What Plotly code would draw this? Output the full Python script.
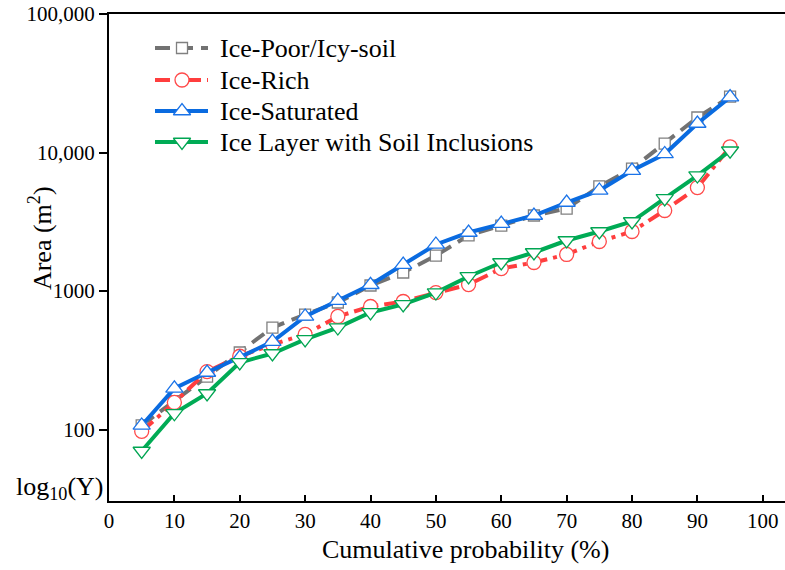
import plotly.graph_objects as go

# Cumulative probability (%) at which each area quantile is reported
prob = [5, 10, 15, 20, 25, 30, 35, 40, 45, 50, 55, 60, 65, 70, 75, 80, 85, 90, 95]

# Area (m^2) per ground-ice class
ice_poor = [107, 160, 241, 360, 545, 676, 826, 1096, 1360, 1800, 2520, 2970, 3510, 3940,
            5690, 7650, 11600, 17900, 25300]
ice_rich = [97, 157, 262, 338, 411, 486, 655, 773, 840, 975, 1113, 1453, 1606, 1836,
            2277, 2690, 3815, 5580, 11000]
ice_saturated = [107, 198, 258, 331, 431, 655, 853, 1110, 1553, 2168, 2645, 3068, 3510, 4355,
                 5320, 7410, 9760, 16200, 25100]
ice_layer = [70, 131, 182, 305, 354, 447, 545, 700, 800, 975, 1274, 1606, 1897, 2316,
             2690, 3175, 4660, 6820, 10300]

y_tick_vals = [100, 1000, 10000, 100000]
y_tick_text = ["100", "1000", "10,000", "100,000"]

FONT = "Liberation Serif"

# plot area in pixels (used to place the hand-built legend)
L, T, W, H = 109, 14, 676, 487

series = [
    ("Ice-Poor/Icy-soil", ice_poor, "#727272", "#808080", "15px,8px", "square", 11),
    ("Ice-Rich", ice_rich, "#ff3e3e", "#ff4a4a", "15px,6px,4px,6px", "circle", 14),
    ("Ice-Saturated", ice_saturated, "#0a6be0", "#1a73e8", "solid", "triangle-up", 15),
    ("Ice Layer with Soil Inclusions", ice_layer, "#00ab55", "#00a552", "solid", "triangle-down", 15),
]

legend_rows_px = [48, 80, 111, 142]
legend_line_px = (155, 208)
legend_marker_px = 182
legend_text_px = 218

fig = go.Figure()
annotations = []
for (name, vals, lc, mc, dash, sym, size), row in zip(series, legend_rows_px):
    fig.add_trace(go.Scatter(
        x=prob, y=vals, name=name, mode="lines+markers", showlegend=False,
        line=dict(color=lc, width=4, dash=dash),
        marker=dict(symbol=sym, size=size, color="white",
                    line=dict(color=mc, width=1.3)),
    ))
    # legend sample: line with a marker in the middle, on a pixel-scaled overlay axis
    yy = H - (row - T)
    fig.add_trace(go.Scatter(
        x=[legend_line_px[0] - L, legend_line_px[1] - L], y=[yy, yy],
        mode="lines", showlegend=False, hoverinfo="skip",
        line=dict(color=lc, width=4, dash=dash), xaxis="x2", yaxis="y2",
    ))
    fig.add_trace(go.Scatter(
        x=[legend_marker_px - L], y=[yy], mode="markers", showlegend=False,
        hoverinfo="skip", xaxis="x2", yaxis="y2",
        marker=dict(symbol=sym, size=size, color="white",
                    line=dict(color=mc, width=1.3)),
    ))
    annotations.append(dict(
        text=name, xref="paper", yref="paper",
        x=(legend_text_px - L) / W, y=(H - (row - T)) / H,
        xanchor="left", yanchor="middle", showarrow=False,
        font=dict(family=FONT, size=26, color="black"),
    ))

annotations += [
    dict(text="Cumulative probability (%)", xref="paper", yref="paper",
         x=0.527, y=-0.1006, xanchor="center", yanchor="middle",
         showarrow=False, font=dict(family=FONT, size=26, color="black")),
    dict(text="Area (m<sup>2</sup>)", xref="paper", yref="paper",
         x=-0.102, y=0.54, xanchor="center", yanchor="middle", textangle=-90,
         showarrow=False, font=dict(family=FONT, size=26, color="black")),
    dict(text="log<sub>10</sub>(Y)", xref="paper", yref="paper",
         x=-0.0725, y=0.027, xanchor="center", yanchor="middle",
         showarrow=False, font=dict(family=FONT, size=26, color="black")),
]

fig.update_layout(
    width=785, height=570,
    margin=dict(l=L, r=0, t=T, b=570 - T - H),
    paper_bgcolor="white", plot_bgcolor="white",
    font=dict(family=FONT, size=21, color="black"),
    showlegend=False,
    xaxis=dict(range=[0, 103.4], tickmode="array", tickvals=list(range(0, 101, 10)),
               ticks="inside", ticklen=6, tickwidth=1.5, tickcolor="black",
               showline=True, linecolor="black", linewidth=2, mirror=True,
               showgrid=False, zeroline=False,
               tickfont=dict(family=FONT, size=21, color="black")),
    yaxis=dict(type="log", range=[1.484, 5], tickmode="array",
               tickvals=y_tick_vals, ticktext=y_tick_text,
               ticks="outside", ticklen=8, tickwidth=1.5, tickcolor="black",
               showline=True, linecolor="black", linewidth=2,
               showgrid=False, zeroline=False,
               tickfont=dict(family=FONT, size=21, color="black")),
    xaxis2=dict(range=[0, W], overlaying="x", anchor="y2", visible=False,
                fixedrange=True),
    yaxis2=dict(range=[0, H], overlaying="y", anchor="x2", visible=False,
                fixedrange=True),
    annotations=annotations,
)

fig.write_html("out.html")
